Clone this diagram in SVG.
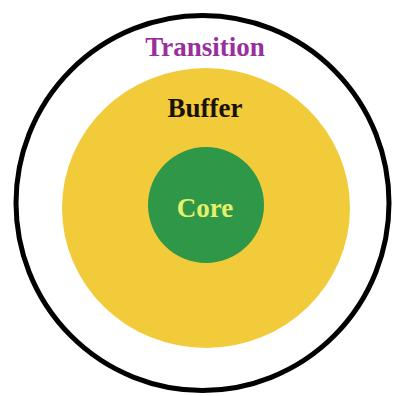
<svg xmlns="http://www.w3.org/2000/svg" width="393" height="396" viewBox="0 0 393 396">
  <style>
    .lbl { font-family: "Liberation Serif", "Times New Roman", serif; font-weight: bold; font-size: 27px; text-anchor: middle; }
  </style>
  <rect width="393" height="396" fill="#ffffff"/>
  <g id="transition">
    <ellipse cx="202.5" cy="203" rx="186.5" ry="187.5" fill="#ffffff" stroke="#000000" stroke-width="5"/>
    <text class="lbl" x="205" y="56" fill="#9a2f9c">Transition</text>
  </g>
  <g id="buffer">
    <ellipse cx="206" cy="208" rx="144" ry="140" fill="#f2cb3b"/>
    <text class="lbl" x="205" y="117" fill="#1a1208">Buffer</text>
  </g>
  <g id="core">
    <circle cx="206" cy="205" r="58" fill="#2e9748"/>
    <text class="lbl" x="205" y="217" fill="#e6f06c">Core</text>
  </g>
  <g id="connectors"/>
</svg>
